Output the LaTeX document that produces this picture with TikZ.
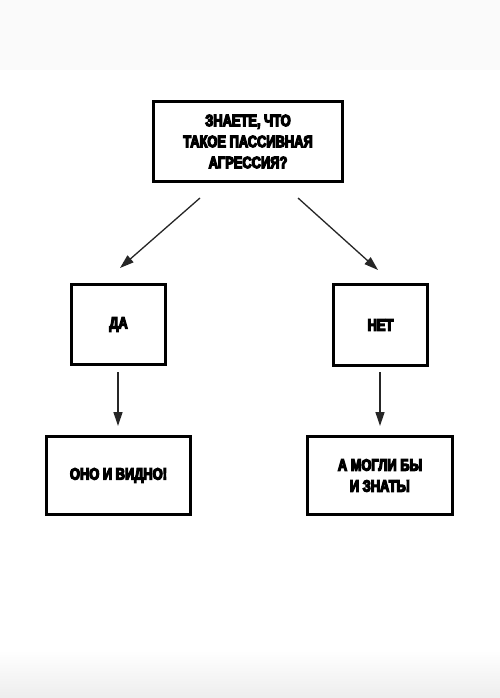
\documentclass[tikz,border=0pt]{standalone}
\usepackage{fontspec}
\setmainfont{Liberation Sans}[BoldFeatures={FakeStretch=0.78,FakeBold=7}]
\usetikzlibrary{arrows.meta}
\begin{document}
\begin{tikzpicture}[x=1pt,y=-1pt,
  box/.style={draw=black,line width=3pt,fill=white,rectangle,inner sep=0pt,align=center,
    font=\fontsize{16.5}{21}\selectfont\bfseries},
  conn/.style={draw=black!85,line width=1.3pt,-{Triangle[width=9pt,length=14pt]}}]
\useasboundingbox (0,0) rectangle (500,698);
\fill[white] (0,0) rectangle (500,698);
\fill[black!2] (0,0) rectangle (500,70);
\shade[top color=white,bottom color=black!7] (0,650) rectangle (500,698);
\node[box,minimum width=189pt,minimum height=80pt] (q) at (248,141.5) {ЗНАЕТЕ, ЧТО\\ТАКОЕ ПАССИВНАЯ\\АГРЕССИЯ?};
\node[box,minimum width=94pt,minimum height=80pt] (da) at (118.5,324.5) {ДА};
\node[box,minimum width=94pt,minimum height=81pt] (net) at (380.5,325) {НЕТ};
\node[box,minimum width=144pt,minimum height=78pt] (ono) at (118.5,475.5) {ОНО И ВИДНО!};
\node[box,minimum width=145pt,minimum height=78pt] (mogli) at (380,475.5) {А МОГЛИ БЫ\\И ЗНАТЬ!};
\coordinate (qL) at (200,198);
\coordinate (daT) at (120,268);
\coordinate (qR) at (298,198);
\coordinate (netT) at (378,270);
\coordinate (daB) at (118,372);
\coordinate (onoT) at (118,426);
\coordinate (netB) at (380,372);
\coordinate (mogliT) at (380,426);
\draw[conn] (qL) -- (daT);
\draw[conn] (qR) -- (netT);
\draw[conn] (daB) -- (onoT);
\draw[conn] (netB) -- (mogliT);
\end{tikzpicture}
\end{document}
